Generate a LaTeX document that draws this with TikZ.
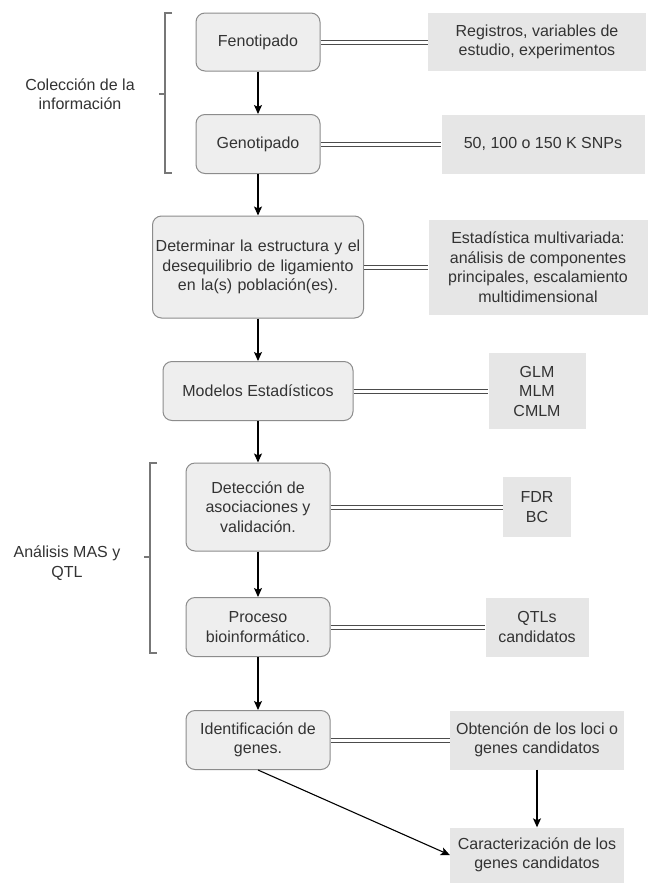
\documentclass[tikz,border=0pt]{standalone}
\usepackage{fontspec}
\setmainfont{Liberation Sans}
\usetikzlibrary{arrows.meta}
\definecolor{txt}{HTML}{333333}
\definecolor{boxfill}{HTML}{EEEEEE}
\definecolor{boxline}{HTML}{8C8C8C}
\definecolor{notefill}{HTML}{E6E6E6}
\definecolor{brk}{HTML}{777777}
\tikzset{
  base/.style={font=\fontsize{16}{19.5}\selectfont, text=txt, align=center, inner sep=2pt},
  proc/.style={base, draw=boxline, line width=1pt, fill=boxfill, rounded corners=9pt},
  note/.style={base, fill=notefill},
  flow/.style={line width=1.1pt, black, -{Stealth[length=9pt,width=8pt,inset=2pt]}},
  link/.style={double=white, double distance=3pt, line width=1pt, draw=black!70},
  brack/.style={draw=brk, line width=1.6pt},
  label/.style={base}
}
\begin{document}
\begin{tikzpicture}[x=1pt,y=-1pt]
\useasboundingbox[fill=white] (0,0) rectangle (655,884);
% left process boxes
\node[proc, minimum width=124pt, minimum height=58pt] (fen) at (258,42) {Fenotipado};
\node[proc, minimum width=124pt, minimum height=59pt] (gen) at (258,144) {Genotipado};
\node[proc, minimum width=211pt, minimum height=102pt, text width=205pt] (det) at (258,267) {Determinar la estructura y el\\desequilibrio de ligamiento\\en la(s) población(es).};
\node[proc, minimum width=190pt, minimum height=59pt] (mod) at (258,391) {Modelos Estadísticos};
\node[proc, minimum width=144pt, minimum height=88pt] (dtc) at (258,507) {Detección de\\asociaciones y\\validación.};
\node[proc, minimum width=144pt, minimum height=59pt] (pro) at (258,627) {Proceso\\bioinformático.};
\node[proc, minimum width=144pt, minimum height=59pt] (ide) at (258,740) {Identificación de\\genes.};
% right notes
\node[note, minimum width=218pt, minimum height=58pt] (reg) at (537,42) {Registros, variables de\\estudio, experimentos};
\node[note, minimum width=203pt, minimum height=59pt] (snp) at (543,144) {50, 100 o 150 K SNPs};
\node[note, minimum width=219pt, minimum height=95pt] (est) at (538,267) {Estadística multivariada:\\análisis de componentes\\principales, escalamiento\\multidimensional};
\node[note, minimum width=97pt, minimum height=76pt] (glm) at (537,391) {GLM\\MLM\\CMLM};
\node[note, minimum width=68pt, minimum height=60pt] (fdr) at (537,507) {FDR\\BC};
\node[note, minimum width=103pt, minimum height=59pt] (qtl) at (537,627) {QTLs\\candidatos};
\node[note, minimum width=174pt, minimum height=59pt] (obt) at (537,740) {Obtención de los loci o\\genes candidatos};
\node[note, minimum width=174pt, minimum height=55pt] (car) at (537,855) {Caracterización de los\\genes candidatos};
% group labels
\node[label] (col) at (80,94) {Colección de la\\información};
\node[label] (mas) at (67,563) {Análisis MAS y\\QTL};
% brackets
\coordinate (b1t) at (165,13);
\coordinate (b1b) at (165,173);
\coordinate (b1m) at (165,94);
\draw[brack] ([xshift=7pt]b1t) -- (b1t) -- (b1b) -- ([xshift=7pt]b1b);
\draw[brack] (b1m) -- ([xshift=-6pt]b1m);
\coordinate (b2t) at (150,463);
\coordinate (b2b) at (150,653);
\coordinate (b2m) at (150,557);
\draw[brack] ([xshift=7pt]b2t) -- (b2t) -- (b2b) -- ([xshift=7pt]b2b);
\draw[brack] (b2m) -- ([xshift=-6pt]b2m);
% links
\draw[link] (fen) -- (reg);
\draw[link] (gen) -- (snp);
\draw[link] (det) -- (est);
\draw[link] (mod) -- (glm);
\draw[link] (dtc) -- (fdr);
\draw[link] (pro) -- (qtl);
\draw[link] (ide) -- (obt);
% flow arrows
\draw[flow] (fen) -- (gen);
\draw[flow] (gen) -- (det);
\draw[flow] (det) -- (mod);
\draw[flow] (mod) -- (dtc);
\draw[flow] (dtc) -- (pro);
\draw[flow] (pro) -- (ide);
\draw[flow] (obt) -- (car);
\draw[flow] (ide.south) -- (car.west);
\end{tikzpicture}
\end{document}
